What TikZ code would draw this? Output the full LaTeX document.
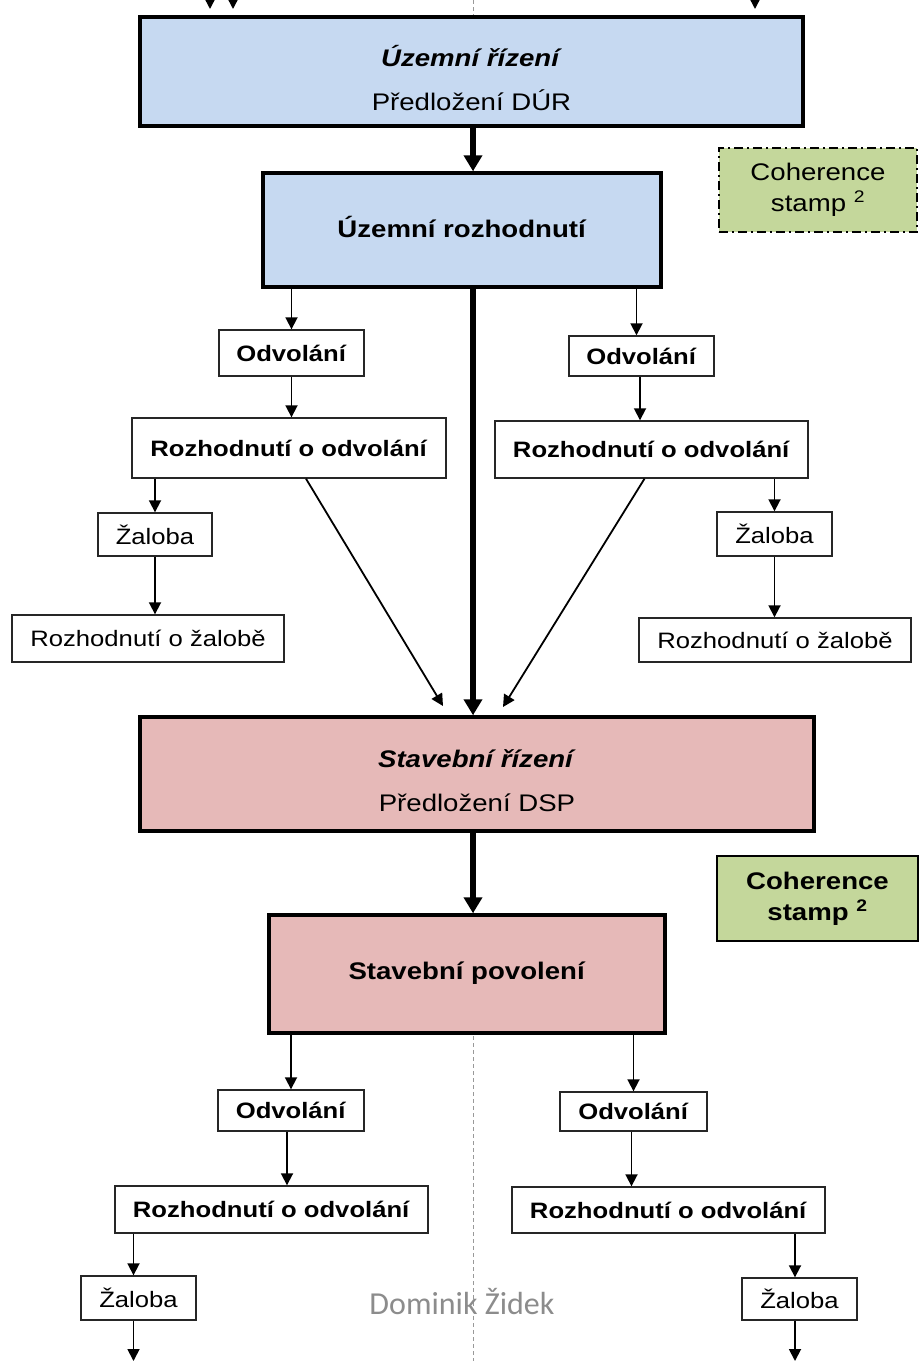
\documentclass[tikz,border=0pt]{standalone}
\usepackage{fontspec}
\setmainfont{Liberation Sans}[FakeStretch=1.15]
\newfontfamily\wmfont{Carlito}
\usetikzlibrary{arrows.meta}
\definecolor{bluefill}{HTML}{C6D9F1}
\definecolor{pinkfill}{HTML}{E6B9B8}
\definecolor{greenfill}{HTML}{C4D79B}
\definecolor{wmgray}{HTML}{8C8C8C}
\tikzset{
  mainbox/.style={draw=black, line width=3.5pt, inner sep=0pt},
  maintext/.style={inner sep=0pt, align=center, font=\fontsize{24}{44}\selectfont},
  smallbox/.style={draw=black!85, line width=1.4pt, fill=white, inner sep=0pt, align=center, font=\fontsize{22.3}{26}\selectfont},
  stampbox/.style={fill=greenfill, inner sep=0pt, align=center, font=\fontsize{24}{31}\selectfont},
  thinarr/.style={line width=1.8pt, -{Triangle[length=12pt,width=12pt]}},
  thickarr/.style={line width=5.5pt, -{Triangle[length=16pt,width=18pt]}},
}
\begin{document}
\begin{tikzpicture}[x=1pt,y=-1pt]
\path[use as bounding box, fill=white] (0,0) rectangle (923,1361);
% dashed axis
\coordinate (axtop) at (473,0);
\coordinate (axbot) at (473,1361);
\draw[black!40, dashed, line width=0.8pt, dash pattern=on 4pt off 3pt] (axtop) -- (axbot);

% upper part
\node[mainbox, fill=bluefill, minimum width=663, minimum height=109] (box1) at (471.5,71.5) {};
\node[maintext] (box1t) at ([yshift=-6.5pt]box1.center) {\textbf{\textit{Územní řízení}}\\Předložení DÚR};
\node[mainbox, fill=bluefill, minimum width=398, minimum height=114] (box2) at (462,230) {};
\node[maintext] (box2t) at ([yshift=3pt]box2.center) {\textbf{Územní rozhodnutí}};
\node[stampbox, draw=black, line width=2.2pt, dash pattern=on 9pt off 4pt on 2pt off 4pt, minimum width=198, minimum height=84] (stamp1) at (818,190) {Coherence\\stamp \textsuperscript{2}};

\node[smallbox, minimum width=145, minimum height=46] (odvL1) at (291.5,353) {\textbf{Odvolání}};
\node[smallbox, minimum width=314, minimum height=60] (rozL1) at (289,448) {\textbf{Rozhodnutí o odvolání}};
\node[smallbox, minimum width=114, minimum height=43] (zalL1) at (155,534.5) {Žaloba};
\node[smallbox, minimum width=272, minimum height=47] (rzL1) at (148,638.5) {Rozhodnutí o žalobě};

\node[smallbox, minimum width=145, minimum height=40] (odvR1) at (641.5,356) {\textbf{Odvolání}};
\node[smallbox, minimum width=313, minimum height=57] (rozR1) at (651.5,449.5) {\textbf{Rozhodnutí o odvolání}};
\node[smallbox, minimum width=115, minimum height=44] (zalR1) at (774.5,534) {Žaloba};
\node[smallbox, minimum width=272, minimum height=44] (rzR1) at (775,640) {Rozhodnutí o žalobě};

% lower part
\node[mainbox, fill=pinkfill, minimum width=674, minimum height=114] (box3) at (477,774) {};
\node[maintext] (box3t) at ([yshift=-7pt]box3.center) {\textbf{\textit{Stavební řízení}}\\Předložení DSP};
\node[mainbox, fill=pinkfill, minimum width=396, minimum height=118] (box4) at (467,974) {};
\node[maintext] (box4t) at ([yshift=1pt]box4.center) {\textbf{Stavební povolení}};
\node[stampbox, draw=black, line width=2.2pt, minimum width=201, minimum height=85, font=\fontsize{24}{31}\selectfont\bfseries] (stamp2) at (817.5,898.5) {Coherence\\stamp \textsuperscript{2}};

\node[smallbox, minimum width=146, minimum height=41] (odvL2) at (291,1110.5) {\textbf{Odvolání}};
\node[smallbox, minimum width=313, minimum height=47] (rozL2) at (271.5,1209.5) {\textbf{Rozhodnutí o odvolání}};
\node[smallbox, minimum width=115, minimum height=44] (zalL2) at (138.5,1298) {Žaloba};

\node[smallbox, minimum width=147, minimum height=39] (odvR2) at (633.5,1111.5) {\textbf{Odvolání}};
\node[smallbox, minimum width=313, minimum height=46] (rozR2) at (668.5,1210) {\textbf{Rozhodnutí o odvolání}};
\node[smallbox, minimum width=115, minimum height=42] (zalR2) at (799.5,1299) {Žaloba};

\node[text=wmgray, font=\wmfont\fontsize{32}{36}\selectfont] (wm) at (462,1301) {Dominik Židek};

% incoming arrows at top
\coordinate (in1s) at (210,-20); \coordinate (in1e) at (210,9);
\coordinate (in2s) at (233,-20); \coordinate (in2e) at (233,9);
\coordinate (in3s) at (755,-20); \coordinate (in3e) at (755,9);
\draw[thinarr] (in1s) -- (in1e);
\draw[thinarr] (in2s) -- (in2e);
\draw[thinarr] (in3s) -- (in3e);

% main flow
\draw[thickarr] (box1.south -| axtop) -- (box2.north -| axtop);
\draw[thickarr] (box2.south -| axtop) -- (box3.north -| axtop);
\draw[thickarr] (box3.south -| axtop) -- (box4.north -| axtop);

% upper left branch
\draw[thinarr] (box2.south -| odvL1.north) -- (odvL1.north);
\draw[thinarr] (odvL1.south) -- (rozL1.north -| odvL1.south);
\draw[thinarr] (rozL1.south -| zalL1.north) -- (zalL1.north);
\draw[thinarr] (zalL1.south) -- (rzL1.north -| zalL1.south);
% upper right branch
\draw[thinarr] ([xshift=-5pt]box2.south -| odvR1.north) -- ([xshift=-5pt]odvR1.north);
\draw[thinarr] ([xshift=-1.5pt]odvR1.south) -- ([xshift=-1.5pt]rozR1.north -| odvR1.south);
\draw[thinarr] (rozR1.south -| zalR1.north) -- (zalR1.north);
\draw[thinarr] (zalR1.south) -- (rzR1.north -| zalR1.south);
% diagonals
\coordinate (dL) at (443,706);
\coordinate (dR) at (503,707);
\draw[thinarr] ([xshift=17pt]rozL1.south) -- (dL);
\draw[thinarr] ([xshift=-7pt]rozR1.south) -- (dR);

% lower left branch
\draw[thinarr] (box4.south -| odvL2.north) -- (odvL2.north);
\draw[thinarr] ([xshift=-4pt]odvL2.south) -- ([xshift=-4pt]odvL2.south |- rozL2.north);
\draw[thinarr] ([xshift=-5pt]rozL2.south -| zalL2.north) -- ([xshift=-5pt]zalL2.north);
\coordinate (outL) at (133.5,1361);
\draw[thinarr] ([xshift=-5pt]zalL2.south) -- (outL);
% lower right branch
\draw[thinarr] (box4.south -| odvR2.north) -- (odvR2.north);
\draw[thinarr] ([xshift=-2pt]odvR2.south) -- ([xshift=-2pt]odvR2.south |- rozR2.north);
\draw[thinarr] ([xshift=-4.5pt]rozR2.south -| zalR2.north) -- ([xshift=-4.5pt]zalR2.north);
\coordinate (outR) at (795,1361);
\draw[thinarr] ([xshift=-4.5pt]zalR2.south) -- (outR);
\end{tikzpicture}
\end{document}
